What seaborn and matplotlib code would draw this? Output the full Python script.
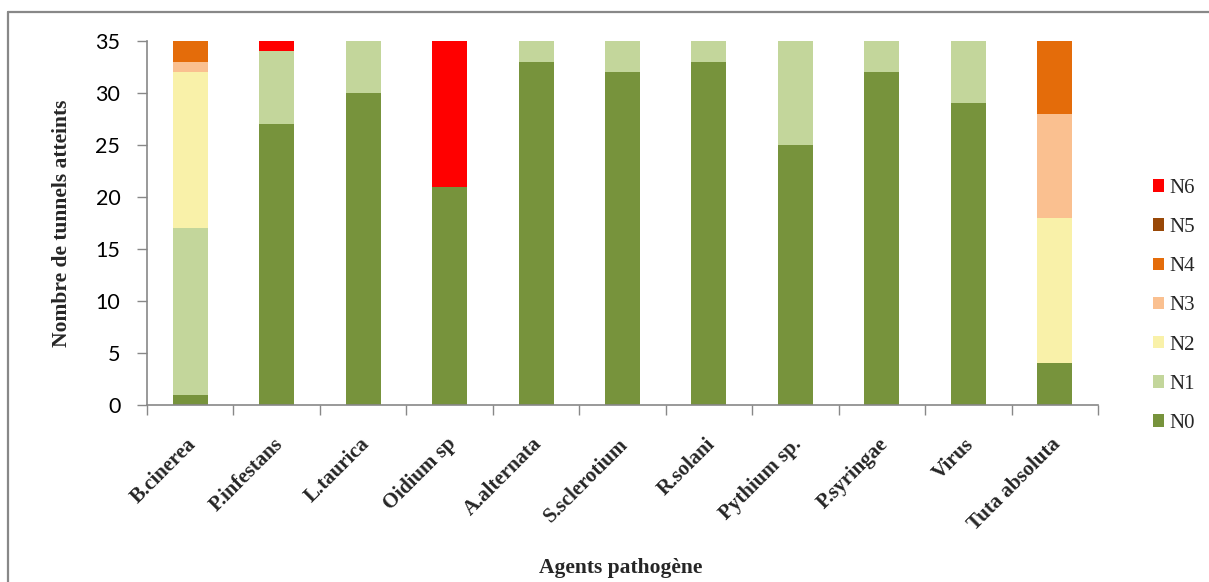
import matplotlib
matplotlib.use("Agg")
import matplotlib.pyplot as plt
import matplotlib.transforms as mtransforms
from matplotlib.patches import Patch
from matplotlib.lines import Line2D
import numpy as np
import pandas as pd
import seaborn as sns

agents = ["B.cinerea", "P.infestans", "L.taurica", "Oidium sp", "A.alternata",
          "S.sclerotium", "R.solani", "Pythium sp.", "P.syringae", "Virus",
          "Tuta absoluta"]

n0 = [1, 27, 30, 21, 33, 32, 33, 25, 32, 29, 4]
n1 = [16, 7, 5, 0, 2, 3, 2, 10, 3, 6, 0]
n2 = [15, 0, 0, 0, 0, 0, 0, 0, 0, 0, 14]
n3 = [1, 0, 0, 0, 0, 0, 0, 0, 0, 0, 10]
n4 = [2, 0, 0, 0, 0, 0, 0, 0, 0, 0, 7]
n5 = [0, 0, 0, 0, 0, 0, 0, 0, 0, 0, 0]
n6 = [0, 1, 0, 14, 0, 0, 0, 0, 0, 0, 0]

levels = ["N0", "N1", "N2", "N3", "N4", "N5", "N6"]
colors = ["#77933C", "#C3D69B", "#F9F1A9", "#FAC090", "#E46C0A", "#984807", "#FF0000"]

sns.set_theme(style="white")
plt.rcParams["font.family"] = ["Lato", "DejaVu Sans"]

W, H = 1209, 582
fig = plt.figure(figsize=(W / 100, H / 100), dpi=100)
ax = fig.add_axes([147 / W, 1 - 405 / H, (1098 - 147) / W, (405 - 41) / H])

series = [n0, n1, n2, n3, n4, n5, n6]
cum = np.cumsum(np.array(series, dtype=float), axis=0)

# Stack by drawing cumulative totals from the top level downwards
for i in range(len(levels) - 1, -1, -1):
    df = pd.DataFrame({"agent": agents, "total": cum[i]})
    sns.barplot(data=df, x="agent", y="total", color=colors[i], saturation=1,
                width=0.405, ax=ax, linewidth=0, errorbar=None)

ax.set_xlim(-0.5, len(agents) - 0.5)
ax.set_ylim(0, 35)
ax.set_yticks(range(0, 36, 5))
ax.tick_params(axis="y", labelsize=15.5, length=7.2, width=1, color="#888888",
               left=True, pad=12, labelcolor="#000000")

# Category boundaries carry the x tick marks
ax.set_xticks(np.arange(-0.5, len(agents), 1.0), minor=True)
ax.set_xticks(range(len(agents)))
ax.tick_params(axis="x", which="minor", length=7, width=1, color="#888888", bottom=True)
ax.tick_params(axis="x", which="major", length=0, pad=21)
ax.set_xticklabels(agents, rotation=45, ha="right", rotation_mode="anchor",
                   family="Liberation Serif", fontweight="bold", fontsize=15)
shift = mtransforms.ScaledTranslation(-4 / 100, 0, fig.dpi_scale_trans)
for lbl in ax.get_xticklabels():
    lbl.set_transform(lbl.get_transform() + shift)

for side in ["top", "right"]:
    ax.spines[side].set_visible(False)
for side in ["left", "bottom"]:
    ax.spines[side].set_color("#888888")
    ax.spines[side].set_linewidth(1.2)

ax.set_xlabel("")
ax.set_ylabel("Nombre de tunnels atteints", family="Liberation Serif",
              fontweight="bold", fontsize=15.5)
ax.yaxis.set_label_coords((72 - 147) / (1098 - 147), 0.5)
fig.text(621 / W, 1 - 568 / H, "Agents pathogène", family="Liberation Serif",
         fontweight="bold", fontsize=15.5, ha="center", va="center")

handles = [Patch(facecolor=colors[i], edgecolor="none") for i in range(len(levels) - 1, -1, -1)]
labels = [levels[i] for i in range(len(levels) - 1, -1, -1)]
fig.legend(handles, labels, loc="upper left", bbox_to_anchor=(1134 / W, 1 - 160 / H),
           frameon=False, handlelength=0.55, handleheight=0.55, handletextpad=0.25,
           labelspacing=0.97, prop={"family": "Liberation Serif", "size": 15})

# Outer frame around the chart area
frame_color = "#888888"
fig.add_artist(Line2D([8 / W, 1.0], [1 - 12 / H] * 2, color=frame_color, lw=1.6,
                      transform=fig.transFigure))
fig.add_artist(Line2D([8 / W] * 2, [1 - 12 / H, 0.0], color=frame_color, lw=1.6,
                      transform=fig.transFigure))

fig.savefig("out.png", dpi=100)
